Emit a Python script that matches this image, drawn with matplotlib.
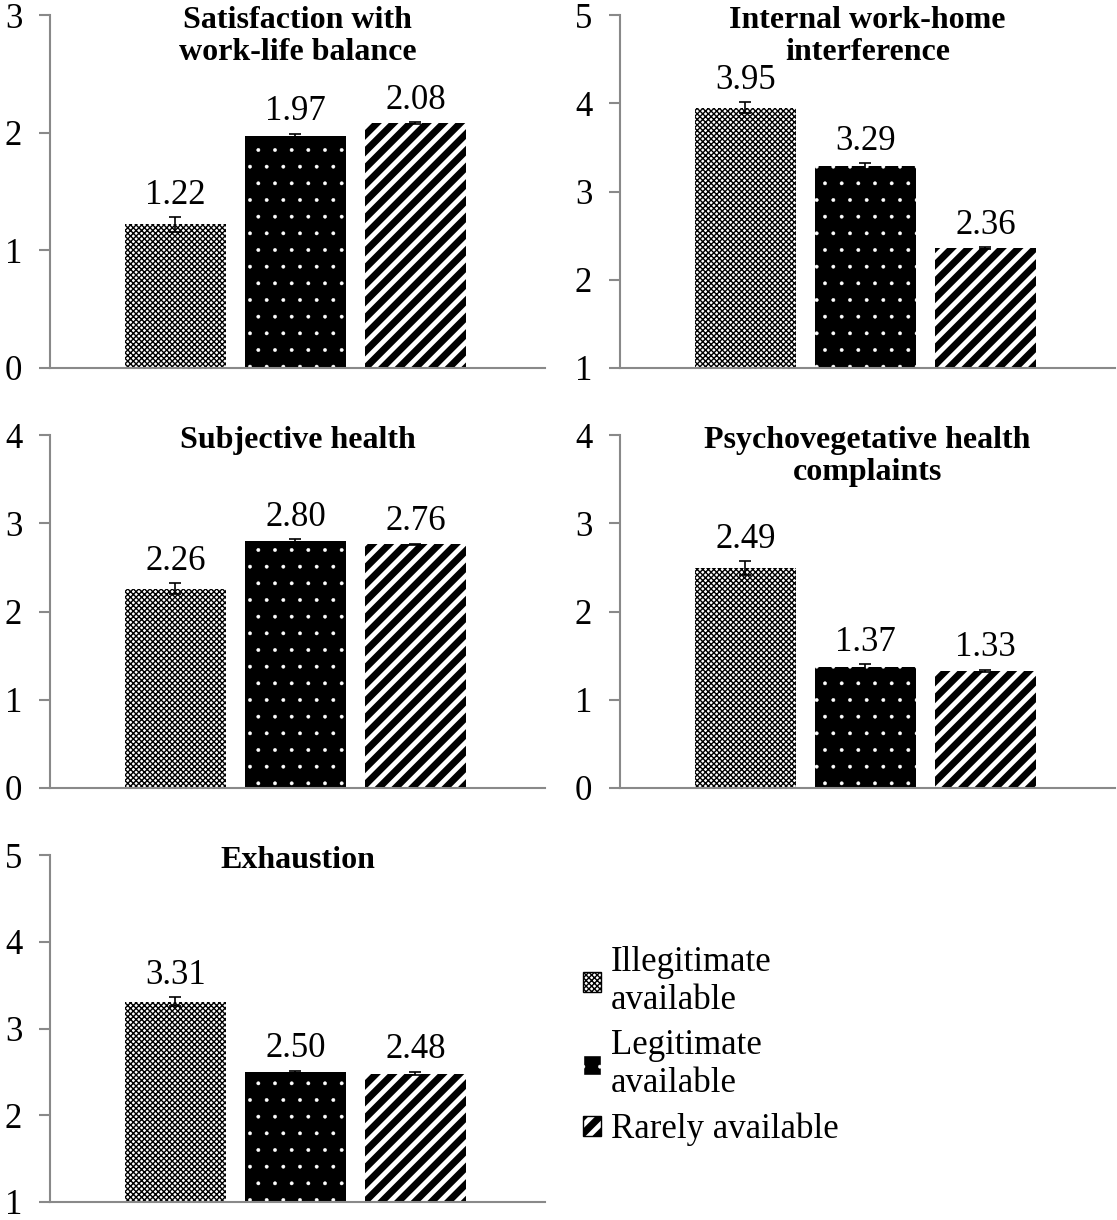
import matplotlib
matplotlib.use("Agg")
import matplotlib.pyplot as plt
from matplotlib.patches import Patch

plt.rcParams['font.family'] = ['Liberation Serif', 'DejaVu Serif']
plt.rcParams['hatch.linewidth'] = 1.0

# data
groups = ["Illegitimate\navailable", "Legitimate\navailable", "Rarely available"]
titulos = ["Satisfaction with\nwork-life balance", "Internal work-home\ninterference",
           "Subjective health", "Psychovegetative health\ncomplaints", "Exhaustion"]
medias = [[1.22, 1.97, 2.08],
          [3.95, 3.29, 2.36],
          [2.26, 2.80, 2.76],
          [2.49, 1.37, 1.33],
          [3.31, 2.50, 2.48]]
errores = [[0.06, 0.02, 0.01],
           [0.06, 0.03, 0.01],
           [0.06, 0.02, 0.01],
           [0.08, 0.03, 0.01],
           [0.05, 0.01, 0.02]]
limites = [(0, 3), (1, 5), (0, 4), (0, 4), (1, 5)]

W, H = 1117, 1220
fig = plt.figure(figsize=(W / 100, H / 100), dpi=100)

# posiciones de los paneles en pixeles (izq, arriba, abajo)
cajas = [(50, 15, 368), (620, 15, 368), (50, 435, 788), (620, 435, 788), (50, 855, 1202)]
ancho_px = 495

estilos = [dict(facecolor='white', edgecolor='black', hatch='xxxxxx'),
           dict(facecolor='black', edgecolor='white', hatch='.'),
           dict(facecolor='white', edgecolor='black', hatch='//')]
grosor_hatch = [1.0, 0.3, 5.0]


def poner_grosor(p, g):
    if hasattr(p, 'set_hatch_linewidth'):
        p.set_hatch_linewidth(g)


gris = '#898989'
for k in range(5):
    izq, arr, aba = cajas[k]
    ax = fig.add_axes([izq / W, 1 - aba / H, ancho_px / W, (aba - arr) / H])
    for i in range(3):
        b = ax.bar(i, medias[k][i], width=0.84, bottom=0, linewidth=0, **estilos[i])
        for p in b:
            poner_grosor(p, grosor_hatch[i])
        ax.errorbar(i, medias[k][i], yerr=errores[k][i], color='black', capsize=4,
                    elinewidth=1.2, capthick=1.2)
        ax.annotate(f"{medias[k][i]:.2f}", (i, medias[k][i] + errores[k][i]),
                    xytext=(0, 4), textcoords='offset points', ha='center', va='bottom',
                    fontsize=25)
    lo, hi = limites[k]
    ax.set_ylim(lo, hi)
    ax.set_xlim(-1.046, 3.08)
    ax.set_yticks(range(lo, hi + 1))
    ax.set_xticks([])
    ax.tick_params(axis='y', direction='out', length=8, width=1.5, color=gris,
                   labelsize=25, pad=12)
    for s in ['top', 'right']:
        ax.spines[s].set_visible(False)
    for s in ['left', 'bottom']:
        ax.spines[s].set_color(gris)
        ax.spines[s].set_linewidth(1.5)
    ax.text(0.5, 1.025, titulos[k], transform=ax.transAxes, ha='center', va='top',
            fontsize=23, fontweight='bold', linespacing=1.15)

handles = [Patch(label=groups[i], **estilos[i]) for i in range(3)]
leg = fig.legend(handles=handles, loc='upper left', bbox_to_anchor=(552 / W, 1 - 915 / H),
                 frameon=False, fontsize=25, handlelength=0.5, handleheight=0.5,
                 handletextpad=0.3, labelspacing=0.35)
for p, g in zip(leg.get_patches(), grosor_hatch):
    poner_grosor(p, g)

fig.savefig("out.png", dpi=100)
